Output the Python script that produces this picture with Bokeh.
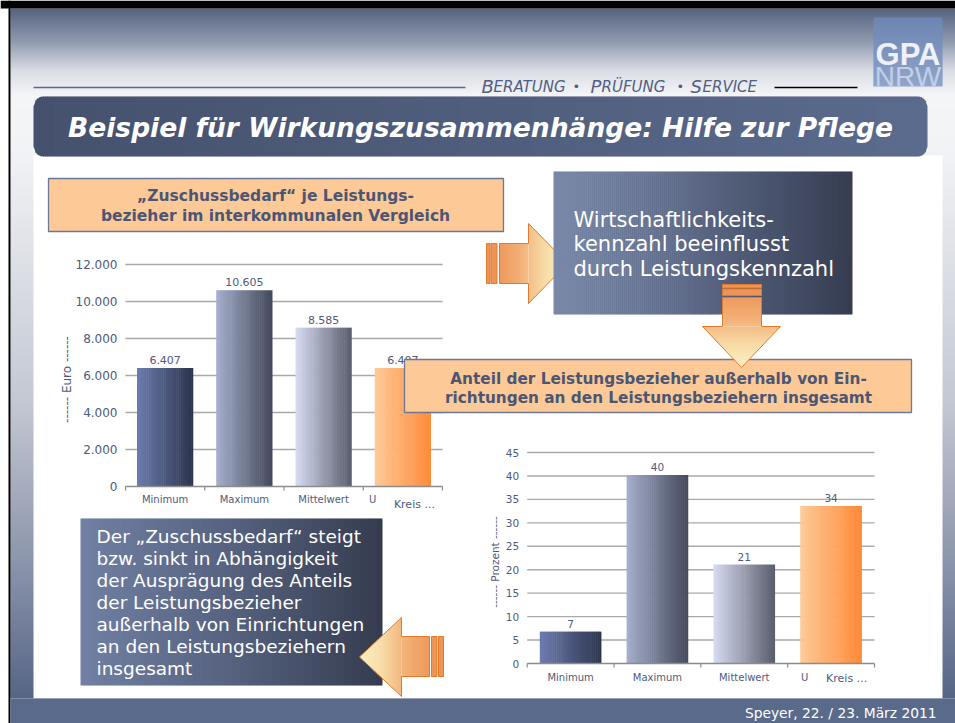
import math
import numpy as np
from bokeh.plotting import figure
from bokeh.models import Range1d
from bokeh.core.properties import value
from bokeh.embed import file_html
from bokeh.resources import INLINE

# ---------------- data ----------------
categories = ["Minimum", "Maximum", "Mittelwert", "U"]
euro_values = [6407, 10605, 8585, 6407]
euro_labels = ["6.407", "10.605", "8.585", "6.407"]
euro_ticks = [0, 2000, 4000, 6000, 8000, 10000, 12000]
prozent_values = [6.8, 40.2, 21.1, 33.6]
prozent_labels = ["7", "40", "21", "34"]
prozent_ticks = [0, 5, 10, 15, 20, 25, 30, 35, 40, 45]
covered_label = "Kreis ..."
euro_title = "------ Euro ------"
prozent_title = "------ Prozent ------"

W, H = 955, 723
FONT = value("DejaVu Sans")
TXT = "#4f5a7a"

p = figure(width=W, height=H, x_range=Range1d(0, W), y_range=Range1d(H, 0),
           x_axis_type=None, y_axis_type=None, toolbar_location=None,
           output_backend="svg", min_border=0, outline_line_color=None)
p.background_fill_color = "white"
p.border_fill_color = "white"


def rgb(h):
    h = h.lstrip("#")
    return np.array([int(h[i:i + 2], 16) for i in (0, 2, 4)], float)


def color_at(stops, t):
    ts = [s[0] for s in stops]
    if t <= ts[0]:
        c = rgb(stops[0][1])
    elif t >= ts[-1]:
        c = rgb(stops[-1][1])
    else:
        j = int(np.searchsorted(ts, t))
        a, b = stops[j - 1], stops[j]
        f = (t - a[0]) / (b[0] - a[0])
        c = rgb(a[1]) * (1 - f) + rgb(b[1]) * f
    return "#%02x%02x%02x" % tuple(int(round(v)) for v in c)


def grad_x(x0, x1, ext, stops, step=1.0):
    n = max(1, int(math.ceil((x1 - x0) / step)))
    e = np.linspace(x0, x1, n + 1)
    xs, ys, cs = [], [], []
    for i in range(n):
        a, b = e[i], e[i + 1]
        b2 = min(b + 0.5, x1)
        ta, ba = ext(a)
        tb, bb = ext(b2)
        xs.append([a, b2, b2, a])
        ys.append([ta, tb, bb, ba])
        cs.append(color_at(stops, (a + b) / 2))
    p.patches(xs, ys, fill_color=cs, line_color=None)


def grad_y(y0, y1, ext, stops, step=1.0):
    n = max(1, int(math.ceil((y1 - y0) / step)))
    e = np.linspace(y0, y1, n + 1)
    xs, ys, cs = [], [], []
    for i in range(n):
        a, b = e[i], e[i + 1]
        b2 = min(b + 0.5, y1)
        la, ra = ext(a)
        lb, rb = ext(b2)
        xs.append([la, ra, rb, lb])
        ys.append([a, a, b2, b2])
        cs.append(color_at(stops, (a + b) / 2))
    p.patches(xs, ys, fill_color=cs, line_color=None)


def rect_ext(t, b):
    return lambda x: (t, b)


def txt(x, y, s, size, color=TXT, align="left", base="middle", style="normal", font=FONT, angle=0):
    p.text(x=[x], y=[y], text=[s], text_font=font, text_font_size=size, text_color=color,
           text_align=align, text_baseline=base, text_font_style=style, angle=angle)


# ---------------- slide background ----------------
grad_y(8, 698, lambda y: (10, W),
       [(8, "#56637f"), (40, "#8e97ac"), (70, "#d9dce4"), (95, "#f4f5f7"),
        (150, "#f2f3f6"), (400, "#c3c8d3"), (560, "#8c95ab"), (698, "#566586")], step=2)
p.quad(left=[0], right=[W], top=[0], bottom=[8], fill_color="black", line_color=None)
p.quad(left=[8], right=[10], top=[0], bottom=[H], fill_color="black", line_color=None)
p.quad(left=[33], right=[942], top=[155], bottom=[698], fill_color="white", line_color=None)
p.quad(left=[10], right=[W], top=[698], bottom=[H], fill_color="#5a6a8a", line_color=None)
txt(936, 712, "Speyer, 22. / 23. März 2011", "13.8px", color="white", align="right")

# header
p.segment(x0=[33], x1=[465], y0=[87], y1=[87], line_color="#5a6a8a", line_width=1.5)
p.segment(x0=[774], x1=[857], y0=[87], y1=[87], line_color="black", line_width=1.5)
for x, s, fs in [(481, "B", "18px"), (493, "ERATUNG", "15px"), (572, "•", "13px"),
                 (590, "P", "18px"), (601, "RÜFUNG", "15px"), (676, "•", "13px"),
                 (690, "S", "18px"), (702, "ERVICE", "15px")]:
    txt(x, 86, s, fs, color="#505f83", base="alphabetic", style="italic")

# logo
grad_y(17, 86, lambda y: (873, 942), [(17, "#6c84b1"), (86, "#90a5cb")], step=1)
txt(907.5, 54, "GPA", "31px", color="#eef1f7", align="center", style="bold", font=value("Liberation Sans"))
txt(907.5, 76, "NRW", "28px", color="#c2cfe6", align="center", font=value("Liberation Sans"))

# title bar
TX0, TX1, TY0, TY1, R = 33, 927, 96, 156, 10


def rr_ext(x):
    d = min(x - TX0, TX1 - x)
    ins = 0.0
    if d < R:
        ins = R - math.sqrt(max(0.0, R * R - (R - d) ** 2))
    return (TY0 + ins, TY1 - ins)


grad_x(TX0, TX1, rr_ext, [(TX0, "#45516d"), (TX1, "#5b6b8d")], step=2)
txt(480, 127, "Beispiel für Wirkungszusammenhänge: Hilfe zur Pflege", "26.5px",
    color="white", align="center", style="bold italic")

# ---------------- charts ----------------
bar_grads = [
    [(0, "#6b7bae"), (1, "#2d354e")],
    [(0, "#a4adca"), (1, "#444a5c")],
    [(0, "#d5daf1"), (1, "#5b5e6d")],
    [(0, "#fec995"), (1, "#ff8a3a")],
]


def chart_ranges(left, right, base, top, vmax, n):
    cw = (right - left) / n
    k = (base - top) / vmax
    xr = Range1d(-left / cw - 0.5, (W - left) / cw - 0.5)
    yr = Range1d(-(H - base) / k, base / k)
    return xr, yr, cw, k


x1r, y1r, cw1, k1 = chart_ranges(125, 442, 486, 264, euro_ticks[-1], len(categories))
x2r, y2r, cw2, k2 = chart_ranges(526.7, 874, 663, 452, prozent_ticks[-1], len(categories))
p.extra_x_ranges = {"c1x": x1r, "c2x": x2r}
p.extra_y_ranges = {"c1y": y1r, "c2y": y2r}


def draw_chart(tag, vals, val_labels, ticks, tick_labels, cw, k, title, fs_tick, fs_val,
               fs_cat, title_dx, cat_dy, u_dx, kreis_dx, kreis_dy):
    kw = dict(x_range_name=tag + "x", y_range_name=tag + "y")
    n = len(vals)
    gt = [t for t in ticks if t != 0]
    p.segment(x0=[-0.5] * len(gt), x1=[n - 0.5] * len(gt), y0=gt, y1=gt,
              line_color="#a9a9a9", line_width=1.4, **kw)
    bw = 0.71
    ov = 0.5 / cw
    for i, v in enumerate(vals):
        m = 30
        e = np.linspace(i - bw / 2, i + bw / 2, m + 1)
        cs = [color_at(bar_grads[i], j / (m - 1)) for j in range(m)]
        p.quad(left=e[:-1], right=np.minimum(e[1:] + ov, i + bw / 2), top=[v] * m,
               bottom=[0] * m, fill_color=cs, line_color=None, **kw)
    p.segment(x0=[-0.5], x1=[n - 0.5], y0=[0], y1=[0], line_color="#8c8c8c", line_width=1.4, **kw)
    b = [i - 0.5 for i in range(n + 1)]
    p.segment(x0=b, x1=b, y0=[0] * (n + 1), y1=[-4 / k] * (n + 1),
              line_color="#8c8c8c", line_width=1.2, **kw)
    common = dict(text_font=FONT, text_color=TXT, **kw)
    p.text(x=[-0.5] * len(ticks), y=ticks, text=tick_labels, text_font_size=fs_tick,
           text_align="right", text_baseline="middle", x_offset=-8, **common)
    p.text(x=list(range(n)), y=vals, text=val_labels, text_font_size=fs_val,
           text_align="center", text_baseline="bottom", y_offset=-4, **common)
    p.text(x=list(range(n - 1)), y=[0] * (n - 1), text=categories[:n - 1], text_font_size=fs_cat,
           text_align="center", text_baseline="middle", y_offset=cat_dy, **common)
    p.text(x=[n - 1], y=[0], text=[categories[n - 1]], text_font_size=fs_cat,
           text_align="left", text_baseline="middle", x_offset=u_dx, y_offset=cat_dy, **common)
    p.text(x=[n - 1], y=[0], text=[covered_label], text_font_size="11px",
           text_align="left", text_baseline="middle", x_offset=kreis_dx, y_offset=kreis_dy, **common)
    p.text(x=[-0.5], y=[ticks[-1] / 2], text=[title], text_font_size=fs_tick,
           text_align="center", text_baseline="middle", angle=math.pi / 2,
           x_offset=title_dx, y_offset=4, **common)


draw_chart("c1", euro_values, euro_labels, euro_ticks,
           [f"{t:,}".replace(",", ".") for t in euro_ticks], cw1, k1, euro_title,
           "12px", "11px", "10px", -59, 13, -34, -9, 18)

# ---------------- boxes & arrows ----------------
PEACH = "#fdc996"
BORDER = "#6b7898"
ORANGE_LINE = "#e07b2e"
BOXTXT = "#4b5675"

# orange box 1
p.quad(left=[48], right=[503], top=[178], bottom=[231], fill_color=PEACH, line_color=BORDER, line_width=1.3)
txt(275, 195, "„Zuschussbedarf“ je Leistungs-", "15.5px", color=BOXTXT, align="center", style="bold")
txt(275, 215, "bezieher im interkommunalen Vergleich", "15.5px", color=BOXTXT, align="center", style="bold")

# right arrow
arrow_stops_x = [(486, "#ec8c4c"), (520, "#f2b077"), (545, "#f8dca8"), (567, "#fcf0c6")]
for a, b in [(486, 489.5), (490.5, 496.5)]:
    p.quad(left=[a], right=[b], top=[243], bottom=[283], fill_color="#ee9455",
           line_color=ORANGE_LINE, line_width=1)
grad_x(499, 528, rect_ext(243, 283), arrow_stops_x)
grad_x(528, 567, lambda x: (223 + 40 * (x - 528) / 39, 303 - 40 * (x - 528) / 39), arrow_stops_x)
p.patch(x=[499, 528, 528, 567, 528, 528, 499], y=[243, 243, 223, 263, 303, 283, 283],
        fill_color=None, line_color=ORANGE_LINE, line_width=1)

# dark box 1
grad_x(553, 852, rect_ext(171, 314), [(553, "#7988a8"), (700, "#5a6684"), (852, "#363d51")], step=2)
for i, s in enumerate(["Wirtschaftlichkeits-", "kennzahl beeinflusst", "durch Leistungskennzahl"]):
    txt(573, 219 + 24.5 * i, s, "21px", color="white")

# orange box 2
p.quad(left=[404], right=[911], top=[359], bottom=[412], fill_color=PEACH, line_color=BORDER, line_width=1.3)
txt(658, 378, "Anteil der Leistungsbezieher außerhalb von Ein-", "15.3px", color=BOXTXT,
    align="center", style="bold")
txt(658, 397, "richtungen an den Leistungsbeziehern insgesamt", "15.3px", color=BOXTXT,
    align="center", style="bold")

# down arrow
arrow_stops_y = [(284, "#ec8c4c"), (318, "#f2b077"), (345, "#f8dca8"), (367, "#fcf0c6")]
for a, b in [(284, 287.5), (288.5, 295)]:
    p.quad(left=[722], right=[761], top=[a], bottom=[b], fill_color="#ee9455",
           line_color=ORANGE_LINE, line_width=1)
grad_y(297, 326, lambda y: (722, 761), arrow_stops_y)
grad_y(326, 367, lambda y: (702 + 39 * (y - 326) / 41, 780 - 39 * (y - 326) / 41), arrow_stops_y)
p.patch(x=[722, 761, 761, 780, 741, 702, 722], y=[297, 297, 326, 326, 367, 326, 326],
        fill_color=None, line_color=ORANGE_LINE, line_width=1)

# chart 2
draw_chart("c2", prozent_values, prozent_labels, prozent_ticks,
           [str(t) for t in prozent_ticks], cw2, k2, prozent_title,
           "10.5px", "10.5px", "10px", -32, 14, -30, -5, 15)

# dark box 2
grad_x(80, 382, rect_ext(518, 685), [(80, "#7180a3"), (230, "#56627f"), (382, "#353c4f")], step=2)
for i, s in enumerate(["Der „Zuschussbedarf“ steigt", "bzw. sinkt in Abhängigkeit",
                       "der Ausprägung des Anteils", "der Leistungsbezieher",
                       "außerhalb von Einrichtungen", "an den Leistungsbeziehern", "insgesamt"]):
    txt(96, 536 + 22 * i, s, "18.5px", color="white")

# left arrow
arrow_stops_l = [(359, "#fcf0c6"), (381, "#f8dca8"), (405, "#f2b077"), (443, "#ec8c4c")]
grad_x(359, 401, lambda x: (656.5 - 39.5 * (x - 359) / 42, 656.5 + 39.5 * (x - 359) / 42), arrow_stops_l)
grad_x(401, 429, rect_ext(636, 676), arrow_stops_l)
for a, b in [(431, 436.5), (438, 443)]:
    p.quad(left=[a], right=[b], top=[636], bottom=[676], fill_color="#ee9455",
           line_color=ORANGE_LINE, line_width=1)
p.patch(x=[359, 401, 401, 429, 429, 401, 401], y=[656.5, 617, 636, 636, 676, 676, 696],
        fill_color=None, line_color=ORANGE_LINE, line_width=1)

open("out.html", "w").write(file_html(p, INLINE))
